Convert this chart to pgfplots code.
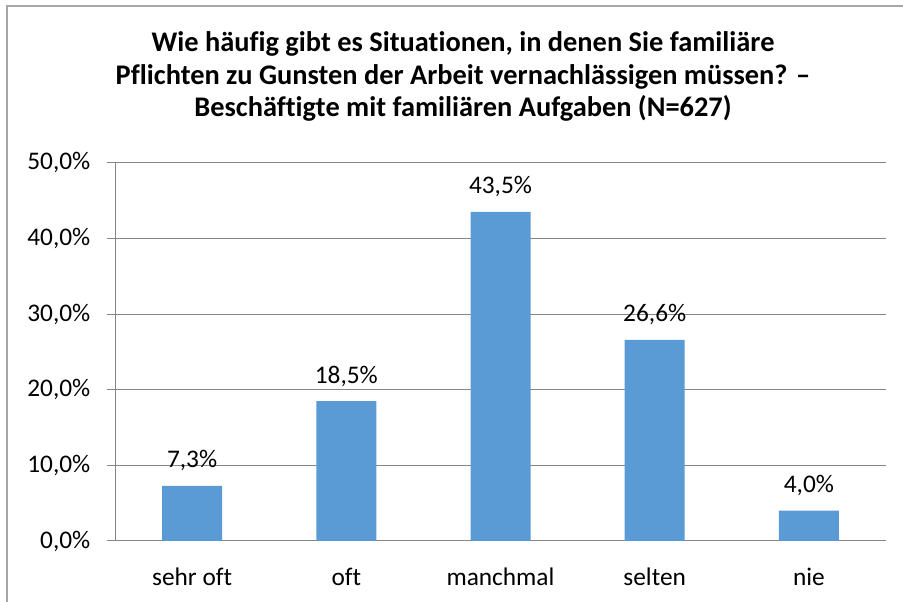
\documentclass[border=0pt]{standalone}
\usepackage{fontspec}
\setmainfont{Carlito}[Ligatures={NoCommon}]
\usepackage{pgfplots}
\pgfplotsset{compat=1.18}
\definecolor{barblue}{HTML}{5B9BD5}
\definecolor{gridgray}{HTML}{868686}
\definecolor{framegray}{HTML}{A6A6A6}
\begin{document}
\begin{tikzpicture}
\begin{scope}[x=0.75pt,y=0.75pt]
\useasboundingbox (0,0) rectangle (903,602);
\fill[white] (0,0) rectangle (903,602);
\draw[framegray, line width=1.5pt] (7,-2) -- (7,596) -- (905,596);
\begin{scope}[every node/.style={font=\bfseries\fontsize{21.3pt}{26pt}\selectfont, anchor=base, inner sep=0pt}]
\node at (463,550) {Wie häufig gibt es Situationen, in denen Sie familiäre};
\node at (463,517) {Pflichten zu Gunsten der Arbeit vernachlässigen müssen? –};
\node at (463,485) {Beschäftigte mit familiären Aufgaben (N=627)};
\end{scope}
\end{scope}
\begin{axis}[
  at={(86.25pt,45.75pt)}, anchor=south west,
  scale only axis, width=578.25pt, height=283.7pt,
  xmin=-0.5, xmax=4.5, ymin=0, ymax=50,
  ytick={0,10,...,50},
  xtick={0,...,4},
  xticklabels={sehr oft,oft,manchmal,selten,nie},
  extra x ticks={-0.5,0.5,1.5,2.5,3.5,4.5},
  extra x tick labels={},
  extra x tick style={major tick length=6pt, tick align=outside, xmajorgrids=false},
  major tick length=6pt,
  x tick style={draw=none},
  tick align=outside,
  axis x line*=bottom, axis y line*=left,
  axis line style={gridgray, line width=0.75pt},
  tick style={gridgray, line width=0.75pt},
  ymajorgrids, grid style={gridgray, line width=0.75pt},
  /pgf/number format/assume math mode=true,
  /pgf/number format/use comma,
  /pgf/number format/fixed,
  /pgf/number format/fixed zerofill,
  /pgf/number format/precision=1,
  yticklabel={\pgfmathprintnumber{\tick}\%},
  ticklabel style={font=\fontsize{19pt}{23pt}\selectfont, text=black},
  xticklabel style={yshift=-11pt},
  yticklabel style={xshift=-9pt},
  ybar, bar width=45pt,
  nodes near coords={\pgfmathprintnumber{\pgfplotspointmeta}\%},
  every node near coord/.append style={font=\fontsize{19pt}{23pt}\selectfont, text=black, anchor=base, yshift=13.5pt, inner sep=0pt},
]
\addplot[fill=barblue, draw=none] coordinates {(0,7.3) (1,18.5) (2,43.5) (3,26.6) (4,4.0)};
\end{axis}
\end{tikzpicture}
\end{document}
